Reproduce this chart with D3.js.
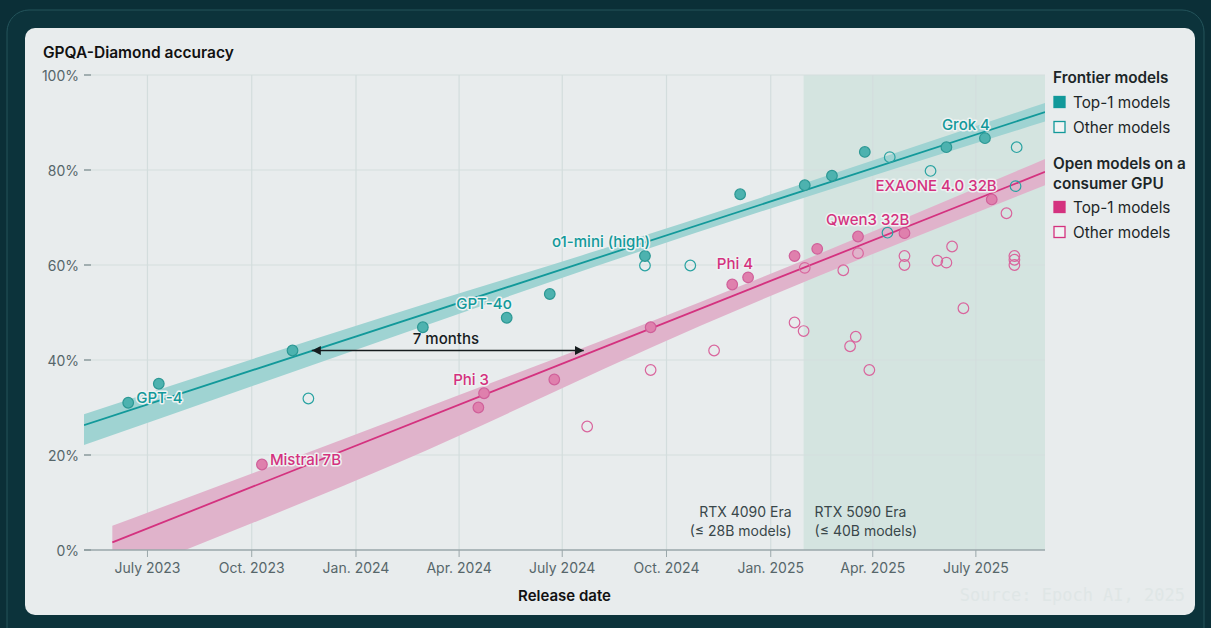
<!DOCTYPE html>
<meta charset="utf-8">

<style>
body {
  margin: 0;
  background: #0b2f37;
}
text {
  font-family: Inter, "Noto Sans", sans-serif;
}
.grid line {
  stroke: #d3dddd;
  stroke-width: 1.2px;
}
.axis text {
  font-size: 14px;
  fill: #56666a;
}
.label {
  font-size: 15px;
  font-weight: 500;
  paint-order: stroke;
  stroke: #eef2f2;
  stroke-width: 3px;
  stroke-linejoin: round;
}
.legend text {
  font-size: 15.3px;
  fill: #1c2628;
}
text.source {
  font-family: "DejaVu Sans Mono", monospace;
}
</style>

<body>
<svg width="1211" height="628"></svg>
</body>

<script src="https://d3js.org/d3.v7.min.js"></script>
<script>

// frontier models, [release date, GPQA-Diamond %]
var frontierTop = [
  ["2023-06-14", 31.0], ["2023-07-11", 35.0], ["2023-11-06", 42.0], ["2024-02-29", 46.9],
  ["2024-05-13", 48.9], ["2024-06-20", 53.9], ["2024-09-12", 61.9], ["2024-12-05", 74.9],
  ["2025-01-31", 76.8], ["2025-02-24", 78.8], ["2025-03-25", 83.8], ["2025-06-05", 84.8],
  ["2025-07-09", 86.7]
];
var frontierOther = [
  ["2023-11-20", 31.9], ["2024-09-12", 59.9], ["2024-10-22", 59.9], ["2025-04-14", 66.8],
  ["2025-04-16", 82.7], ["2025-05-22", 79.8], ["2025-08-06", 84.8], ["2025-08-05", 76.6]
];

// open models that fit on a consumer GPU
var openTop = [
  ["2023-10-10", 18.0], ["2024-04-18", 30.0], ["2024-04-23", 33.0], ["2024-06-24", 35.9],
  ["2024-09-17", 46.9], ["2024-11-28", 55.9], ["2024-12-12", 57.4], ["2025-01-22", 61.9],
  ["2025-02-11", 63.4], ["2025-03-19", 66.0], ["2025-04-29", 66.7], ["2025-07-15", 73.8]
];
var openOther = [
  ["2024-07-23", 26.0], ["2024-09-17", 37.9], ["2024-11-12", 42.0], ["2025-01-22", 47.9],
  ["2025-01-30", 46.1], ["2025-01-31", 59.4], ["2025-03-06", 58.9], ["2025-03-12", 42.9],
  ["2025-03-17", 44.9], ["2025-03-19", 62.5], ["2025-03-29", 37.9], ["2025-04-29", 61.9],
  ["2025-04-29", 60.0], ["2025-05-28", 60.9], ["2025-06-05", 60.5], ["2025-06-10", 63.9],
  ["2025-06-20", 50.9], ["2025-07-28", 70.9], ["2025-08-04", 61.9], ["2025-08-04", 61.1],
  ["2025-08-04", 60.0]
];

// trend lines (ends) and their bands [date, lower, upper]
var frontierTrend = [["2023-05-06", 26.3], ["2025-08-31", 92.2]];
var frontierBand = [
  ["2023-05-06", 22.1, 28.6], ["2024-01-22", 43.9, 48.8],
  ["2024-08-03", 60.0, 63.2], ["2025-08-31", 90.2, 94.1]
];
var openTrend = [["2023-05-31", 1.6], ["2025-08-31", 79.6]];
var openBand = [
  ["2023-05-31", -6.1, 5.1], ["2024-02-08", 18.5, 27.8],
  ["2024-10-31", 47.2, 52.2], ["2025-08-31", 76.8, 82.3]
];

// named models: [index in that series, text]
var frontierLabels = [[0, "GPT-4"], [4, "GPT-4o"], [6, "o1-mini (high)"], [12, "Grok 4"]];
var openLabels = [[0, "Mistral 7B"], [2, "Phi 3"], [6, "Phi 4"], [10, "Qwen3 32B"], [11, "EXAONE 4.0 32B"]];

var gapArrow = [["2023-11-23", 42], ["2024-07-20", 42]];
var rtx5090Start = "2025-01-30";

var xTicks = ["2023-07-01", "2023-10-01", "2024-01-01", "2024-04-01", "2024-07-01",
              "2024-10-01", "2025-01-01", "2025-04-01", "2025-07-01"];
var yTicks = [0, 20, 40, 60, 80, 100];

var teal = "#12999a";
var pink = "#d4327f";

var parse = d3.utcParse("%Y-%m-%d");
var monthName = ["Jan.", "Feb.", "Mar.", "Apr.", "May", "June", "July", "Aug.", "Sep.", "Oct.", "Nov.", "Dec."];

var x = d3.scaleUtc()
    .domain([parse("2023-05-06"), parse("2025-08-31")])
    .range([84, 1045]);
var y = d3.scaleLinear()
    .domain([0, 100])
    .range([550, 75]);

var svg = d3.select("svg");

// frame + card
svg.append("rect")
    .attr("x", 7).attr("y", 10).attr("width", 1197).attr("height", 650)
    .attr("rx", 22)
    .attr("fill", "#0c333b")
    .attr("stroke", "#24545b");
svg.append("rect")
    .attr("x", 25).attr("y", 28).attr("width", 1170).attr("height", 587)
    .attr("rx", 10)
    .attr("fill", "#e8eced");

svg.append("defs").append("clipPath")
    .attr("id", "plot")
  .append("rect")
    .attr("x", x.range()[0]).attr("y", y(100))
    .attr("width", x.range()[1] - x.range()[0]).attr("height", y(0) - y(100));

// RTX 5090 era shading
svg.append("rect")
    .attr("x", x(parse(rtx5090Start)))
    .attr("y", y(100))
    .attr("width", x.range()[1] - x(parse(rtx5090Start)))
    .attr("height", y(0) - y(100))
    .attr("fill", "#d4e4e0");

// grid
var grid = svg.append("g").attr("class", "grid");
grid.selectAll(".h")
  .data(yTicks.slice(1))
  .enter().append("line")
    .attr("x1", x.range()[0]).attr("x2", x.range()[1])
    .attr("y1", function(d) { return y(d); })
    .attr("y2", function(d) { return y(d); });
grid.selectAll(".v")
  .data(xTicks)
  .enter().append("line")
    .attr("x1", function(d) { return x(parse(d)); })
    .attr("x2", function(d) { return x(parse(d)); })
    .attr("y1", y(100)).attr("y2", y(0));

// era notes
var era = svg.append("g")
    .attr("font-size", 14)
    .attr("fill", "#39474a");
era.append("text").attr("x", x(parse(rtx5090Start)) - 12).attr("y", y(8.1))
    .attr("text-anchor", "end").attr("dominant-baseline", "central").text("RTX 4090 Era");
era.append("text").attr("x", x(parse(rtx5090Start)) - 12).attr("y", y(4.1))
    .attr("text-anchor", "end").attr("dominant-baseline", "central").text("(≤ 28B models)");
era.append("text").attr("x", x(parse(rtx5090Start)) + 11).attr("y", y(8.1))
    .attr("dominant-baseline", "central").text("RTX 5090 Era");
era.append("text").attr("x", x(parse(rtx5090Start)) + 11).attr("y", y(4.1))
    .attr("dominant-baseline", "central").text("(≤ 40B models)");

// bands and trend lines
var band = d3.area()
    .curve(d3.curveMonotoneX)
    .x(function(d) { return x(parse(d[0])); })
    .y0(function(d) { return y(d[1]); })
    .y1(function(d) { return y(d[2]); });
var trend = d3.line()
    .x(function(d) { return x(parse(d[0])); })
    .y(function(d) { return y(d[1]); });

var fits = svg.append("g").attr("clip-path", "url(#plot)");
fits.append("path").datum(openBand).attr("d", band).attr("fill", "#e0b3cb");
fits.append("path").datum(frontierBand).attr("d", band).attr("fill", "#9fd3d2");
fits.append("path").datum(openTrend).attr("d", trend)
    .attr("fill", "none").attr("stroke", pink).attr("stroke-width", 1.8);
fits.append("path").datum(frontierTrend).attr("d", trend)
    .attr("fill", "none").attr("stroke", teal).attr("stroke-width", 1.8);

// axes
var axis = svg.append("g").attr("class", "axis");
axis.append("line")
    .attr("x1", x.range()[0]).attr("x2", x.range()[1])
    .attr("y1", y(0)).attr("y2", y(0))
    .attr("stroke", "#9aa7aa").attr("stroke-width", 1.5);
axis.selectAll(".xt")
  .data(xTicks)
  .enter().append("line")
    .attr("x1", function(d) { return x(parse(d)); })
    .attr("x2", function(d) { return x(parse(d)); })
    .attr("y1", y(0)).attr("y2", y(0) + 7)
    .attr("stroke", "#9aa7aa");
axis.selectAll(".xl")
  .data(xTicks)
  .enter().append("text")
    .attr("x", function(d) { return x(parse(d)); })
    .attr("y", y(0) + 17)
    .attr("text-anchor", "middle")
    .attr("dominant-baseline", "central")
    .text(function(d) { var t = parse(d); return monthName[t.getUTCMonth()] + " " + t.getUTCFullYear(); });
axis.selectAll(".yt")
  .data(yTicks)
  .enter().append("line")
    .attr("x1", x.range()[0]).attr("x2", x.range()[0] + 7)
    .attr("y1", function(d) { return y(d); })
    .attr("y2", function(d) { return y(d); })
    .attr("stroke", "#8d9b9e").attr("stroke-width", 1.5);
axis.selectAll(".yl")
  .data(yTicks)
  .enter().append("text")
    .attr("x", x.range()[0] - 5)
    .attr("y", function(d) { return y(d); })
    .attr("text-anchor", "end")
    .attr("dominant-baseline", "central")
    .text(function(d) { return d + "%"; });

svg.append("text")
    .attr("x", (x.range()[0] + x.range()[1]) / 2)
    .attr("y", 595)
    .attr("text-anchor", "middle")
    .attr("dominant-baseline", "central")
    .attr("font-size", 15).attr("font-weight", 600).attr("fill", "#111")
    .text("Release date");

svg.append("text")
    .attr("x", 43).attr("y", 52)
    .attr("dominant-baseline", "central")
    .attr("font-size", 15.5).attr("font-weight", 600).attr("fill", "#111")
    .text("GPQA-Diamond accuracy");

// 7 months gap
svg.append("defs").selectAll("marker")
  .data(["start", "end"])
  .enter().append("marker")
    .attr("id", function(d) { return "head-" + d; })
    .attr("viewBox", "0 0 10 10")
    .attr("refX", function(d) { return d == "end" ? 10 : 0; })
    .attr("refY", 5)
    .attr("markerWidth", 9).attr("markerHeight", 9)
    .attr("markerUnits", "userSpaceOnUse")
    .attr("orient", "auto")
  .append("path")
    .attr("d", function(d) { return d == "end" ? "M0,0L10,5L0,10Z" : "M10,0L0,5L10,10Z"; })
    .attr("fill", "#161c1e");
svg.append("path")
    .datum(gapArrow)
    .attr("d", trend)
    .attr("stroke", "#161c1e").attr("stroke-width", 1.5)
    .attr("marker-start", "url(#head-start)")
    .attr("marker-end", "url(#head-end)");
svg.append("text")
    .attr("x", x(parse(gapArrow[0][0])) + 101)
    .attr("y", y(gapArrow[0][1]) - 12)
    .attr("dominant-baseline", "central")
    .attr("font-size", 15).attr("font-weight", 500).attr("fill", "#161c1e")
    .text("7 months");

// points
function dots(data, fill, stroke) {
  svg.append("g").selectAll("circle")
    .data(data)
    .enter().append("circle")
      .attr("cx", function(d) { return x(parse(d[0])); })
      .attr("cy", function(d) { return y(d[1]); })
      .attr("r", 5.3)
      .attr("fill", fill)
      .attr("stroke", stroke)
      .attr("stroke-width", 1.2);
}
dots(openOther, "none", "#d9659d");
dots(frontierOther, "none", "#2aa3a2");
dots(openTop, "#df80ad", "#d0609a");
dots(frontierTop, "#4db2af", "#2c9894");

// model names
function names(labels, series, color, anchorStart) {
  svg.append("g").selectAll("text")
    .data(labels)
    .enter().append("text")
      .attr("class", "label")
      .attr("fill", color)
      .attr("x", function(d) {
        var px = x(parse(series[d[0]][0]));
        return anchorStart.indexOf(d[1]) >= 0 ? px + 8 : px + 5;
      })
      .attr("y", function(d) {
        var py = y(series[d[0]][1]);
        return anchorStart.indexOf(d[1]) >= 0 ? py - 5 : py - 14;
      })
      .attr("text-anchor", function(d) { return anchorStart.indexOf(d[1]) >= 0 ? "start" : "end"; })
      .attr("dominant-baseline", "central")
      .text(function(d) { return d[1]; });
}
names(frontierLabels, frontierTop, teal, ["GPT-4"]);
names(openLabels, openTop, pink, ["Mistral 7B"]);

// legend
var legend = svg.append("g").attr("class", "legend");
var legendRows = [
  {t: "Frontier models", y: 77, head: true},
  {t: "Top-1 models", y: 102, c: teal, fill: true},
  {t: "Other models", y: 127, c: teal},
  {t: "Open models on a", y: 163, head: true},
  {t: "consumer GPU", y: 183, head: true},
  {t: "Top-1 models", y: 207, c: pink, fill: true},
  {t: "Other models", y: 232, c: pink}
];
legendRows.forEach(function(r) {
  if (r.head) {
    legend.append("text").attr("x", 1053).attr("y", r.y)
        .attr("dominant-baseline", "central")
        .attr("font-weight", 600).attr("fill", "#111").text(r.t);
  } else {
    legend.append("rect")
        .attr("x", 1054).attr("y", r.y - 5.5)
        .attr("width", 11).attr("height", 11)
        .attr("fill", r.fill ? r.c : "#f1f4f4")
        .attr("stroke", r.c).attr("stroke-width", 1.3);
    legend.append("text").attr("x", 1073).attr("y", r.y)
        .attr("dominant-baseline", "central").text(r.t);
  }
});

svg.append("text")
    .attr("class", "source")
    .attr("x", 1185).attr("y", 595)
    .attr("text-anchor", "end")
    .attr("dominant-baseline", "central")
    .attr("font-size", 17)
    .attr("fill", "#dfe6e6")
    .text("Source: Epoch AI, 2025");

</script>
